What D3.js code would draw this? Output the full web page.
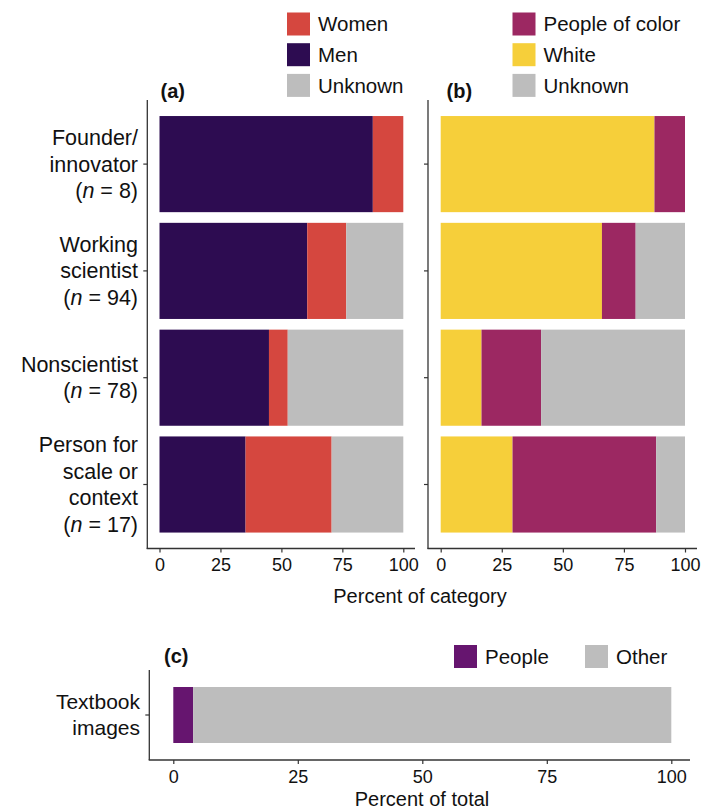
<!DOCTYPE html>
<html>
<head>
<meta charset="utf-8">
<script src="https://cdn.jsdelivr.net/npm/d3@7"></script>
<style>
  body { margin: 0; background: #fff; }
  svg text { font-family: "Liberation Sans", Arial, sans-serif; fill: #111; }
</style>
</head>
<body>
<div id="chart"></div>
<script>
// categories and sample sizes
const categories = ["Founder", "Working", "Nonscientist", "Person"];
const catLines = [["Founder/", "innovator"], ["Working", "scientist"], ["Nonscientist"], ["Person for", "scale or", "context"]];
const catN = [8, 94, 78, 17];

// panel (a): gender, percent of category
const men = [87.5, 60.6, 44.9, 35.3];
const women = [12.5, 16.0, 7.7, 35.3];
const unknownGender = [0, 23.4, 47.4, 29.4];

// panel (b): race, percent of category
const white = [87.5, 66.0, 16.7, 29.4];
const peopleOfColor = [12.5, 13.8, 24.4, 58.8];
const unknownRace = [0, 20.2, 58.9, 11.8];

// panel (c): textbook images, percent of total
const textbookCats = ["Textbook images"];
const people = [4.0];
const other = [96.0];

const xTicks = [0, 25, 50, 75, 100];

const colors = {
  men: "#2d0c51", women: "#d5473f", unknown: "#bdbdbd",
  white: "#f6cf3a", poc: "#9c2862", people: "#66156f", other: "#bdbdbd"
};

const svg = d3.select("#chart").append("svg")
  .attr("width", 711).attr("height", 811);

//build rows for stacking
function rows(cats, series) {
  return cats.map((c, i) => {
    let r = {cat: c};
    for (let k in series) r[k] = series[k][i];
    return r;
  });
}

function drawAxisX(g, xScale, y, x0, x1) {
  g.append("line")
    .attr("x1", x0).attr("x2", x1).attr("y1", y).attr("y2", y)
    .attr("stroke", "#333").attr("stroke-width", 1.3);
  let ax = g.append("g").attr("transform", `translate(0,${y})`)
    .call(d3.axisBottom(xScale).tickValues(xTicks).tickSize(4).tickPadding(6));
  ax.select(".domain").remove();
  ax.selectAll(".tick line").attr("stroke", "#333").attr("stroke-width", 1.2);
  ax.selectAll(".tick text").attr("font-size", 18).attr("fill", "#111")
    .attr("font-family", "Liberation Sans, Arial, sans-serif");
}

function drawAxisY(g, yScale, x, y0, y1) {
  g.append("line")
    .attr("x1", x).attr("x2", x).attr("y1", y0).attr("y2", y1)
    .attr("stroke", "#333").attr("stroke-width", 1.3);
  let ax = g.append("g").attr("transform", `translate(${x},0)`)
    .call(d3.axisLeft(yScale).tickSize(4).tickFormat(""));
  ax.select(".domain").remove();
  ax.selectAll(".tick line").attr("stroke", "#333").attr("stroke-width", 1.2);
}

function drawBars(g, data, keys, xScale, yScale, fillMap) {
  let stack = d3.stack().keys(keys)(data);
  g.selectAll(null)
    .data(stack)
    .join("g")
    .attr("fill", d => fillMap[d.key])
    .selectAll("rect")
    .data(d => d)
    .join("rect")
    .attr("x", d => xScale(d[0]))
    .attr("width", d => xScale(d[1]) - xScale(d[0]))
    .attr("y", d => yScale(d.data.cat))
    .attr("height", yScale.bandwidth());
}

function legend(g, x, y, items, step, horizontal) {
  items.forEach((it, i) => {
    let gx = horizontal ? x + it.dx : x;
    let gy = horizontal ? y : y + i * step;
    g.append("rect").attr("x", gx).attr("y", gy).attr("width", 23).attr("height", 23)
      .attr("fill", it.color);
    g.append("text").attr("x", gx + 31).attr("y", gy + 11.5).attr("dy", "0.35em")
      .attr("font-size", 20.5).text(it.label);
  });
}

//shared band scale for panels a and b
const yBand = d3.scaleBand()
  .domain(categories)
  .range([110.7, 537.9])
  .paddingInner(0.1)
  .paddingOuter(0.05);

const xA = d3.scaleLinear().domain([0, 100]).range([159.5, 403.3]);
const xB = d3.scaleLinear().domain([0, 100]).range([440.7, 685]);

// panel (a)
const gA = svg.append("g");
drawBars(gA, rows(categories, {men: men, women: women, unknown: unknownGender}),
  ["men", "women", "unknown"], xA, yBand, colors);
drawAxisY(gA, yBand, 147.3, 100, 549);
drawAxisX(gA, xA, 548.5, 146.7, 415);

// y labels for panel (a)
categories.forEach((c, i) => {
  let lines = catLines[i];
  let n = lines.length + 1;
  let lh = 26.5;
  let cy = yBand(c) + yBand.bandwidth() / 2;
  let t = gA.append("text").attr("text-anchor", "end").attr("font-size", 21.5);
  lines.forEach((ln, j) => {
    t.append("tspan").attr("x", 138).attr("y", cy + (j - (n - 1) / 2) * lh).attr("dy", "0.35em").text(ln);
  });
  let last = t.append("tspan").attr("x", 138).attr("y", cy + (n - 1 - (n - 1) / 2) * lh).attr("dy", "0.35em");
  last.append("tspan").text("(");
  last.append("tspan").attr("font-style", "italic").text("n");
  last.append("tspan").text(` = ${catN[i]})`);
});

// panel (b)
const gB = svg.append("g");
drawBars(gB, rows(categories, {white: white, poc: peopleOfColor, unknown: unknownRace}),
  ["white", "poc", "unknown"], xB, yBand, colors);
drawAxisY(gB, yBand, 428, 100, 549);
drawAxisX(gB, xB, 548.5, 427.5, 697);

svg.append("text").attr("x", 420).attr("y", 603).attr("text-anchor", "middle")
  .attr("font-size", 20).text("Percent of category");

svg.append("text").attr("x", 160.5).attr("y", 98).attr("font-size", 20)
  .attr("font-weight", "bold").text("(a)");
svg.append("text").attr("x", 446.5).attr("y", 98).attr("font-size", 20)
  .attr("font-weight", "bold").text("(b)");

legend(svg.append("g"), 287, 12.5, [
  {label: "Women", color: colors.women},
  {label: "Men", color: colors.men},
  {label: "Unknown", color: colors.unknown}
], 30.7, false);
legend(svg.append("g"), 512.5, 12.5, [
  {label: "People of color", color: colors.poc},
  {label: "White", color: colors.white},
  {label: "Unknown", color: colors.unknown}
], 30.7, false);

// panel (c)
const yC = d3.scaleBand().domain(textbookCats).range([670, 760]).padding(0.233);
const xC = d3.scaleLinear().domain([0, 100]).range([173.3, 671.3]);
const gC = svg.append("g");
drawBars(gC, rows(textbookCats, {people: people, other: other}),
  ["people", "other"], xC, yC, colors);
drawAxisY(gC, yC, 149.3, 670, 760);
drawAxisX(gC, xC, 760, 148.7, 690);

let tc = gC.append("text").attr("text-anchor", "end").attr("font-size", 21);
["Textbook", "images"].forEach((ln, j) => {
  tc.append("tspan").attr("x", 140).attr("y", 714.5 + (j - 0.5) * 26.5).attr("dy", "0.35em").text(ln);
});

svg.append("text").attr("x", 422).attr("y", 806).attr("text-anchor", "middle")
  .attr("font-size", 20).text("Percent of total");
svg.append("text").attr("x", 164).attr("y", 663).attr("font-size", 20)
  .attr("font-weight", "bold").text("(c)");

legend(svg.append("g"), 454, 645, [
  {label: "People", color: colors.people, dx: 0},
  {label: "Other", color: colors.other, dx: 131}
], 0, true);
</script>
</body>
</html>
